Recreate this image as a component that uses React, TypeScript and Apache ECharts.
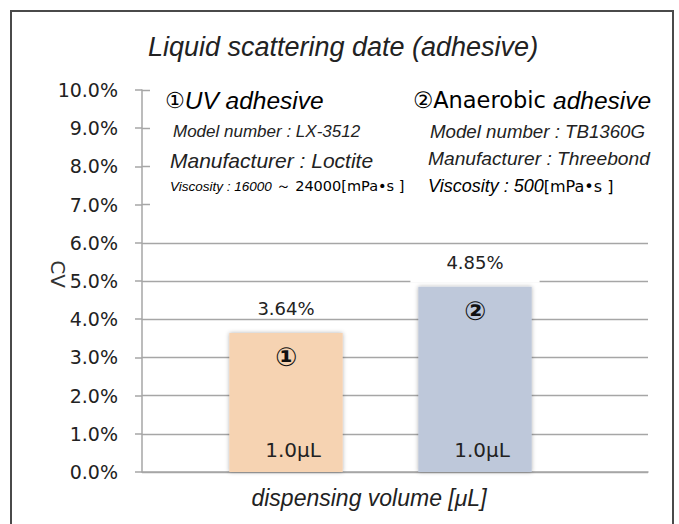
import React, { useEffect, useRef } from "react";
import * as echarts from "echarts";

const categories = ["1.0μL", "1.0μL"];
const cvValues = [3.64, 4.85];
const barMarkers = ["①", "②"];
const barColors = ["#F6D3B2", "#BEC8DA"];
const yMin = 0;
const yMax = 10;
const yInterval = 1;

const titleText = "Liquid scattering date (adhesive)";
const xAxisTitle = "dispensing volume [μL]";
const yAxisTitle = "CV";

const NUM_FONT = "'DejaVu Sans', 'Noto Sans', sans-serif";
const IT_FONT = "'Liberation Sans', Arial, sans-serif";

export default function App() {
  const ref = useRef<HTMLDivElement>(null);
  useEffect(() => {
    if (!ref.current) return;
    const chart = echarts.init(ref.current, null, { renderer: "svg" });
    const gridLine = "#a6a6a6";
    const option: any = {
      animation: false,
      backgroundColor: "#ffffff",
      grid: [
        { left: 142, right: 31, top: 90, bottom: 52 },
        { left: 191.5, right: 109.5, top: 90, bottom: 52 },
      ],
      xAxis: [
        {
          gridIndex: 0,
          type: "category",
          data: categories,
          axisLine: { show: true, lineStyle: { color: gridLine, width: 1.5 } },
          axisTick: { show: false },
          axisLabel: { show: false },
        },
        {
          gridIndex: 1,
          type: "category",
          data: categories,
          axisLine: { show: false },
          axisTick: { show: false },
          axisLabel: {
            inside: true,
            margin: 12,
            fontFamily: NUM_FONT,
            fontSize: 20,
            color: "#222",
            padding: [0, 0, 0, 14],
          },
          z: 5,
        },
      ],
      yAxis: [
        {
          gridIndex: 0,
          type: "value",
          min: yMin,
          max: yMax,
          interval: yInterval,
          axisLine: { show: true, lineStyle: { color: gridLine, width: 1.5 } },
          axisTick: { show: true, length: 7, lineStyle: { color: gridLine, width: 1.5 } },
          axisLabel: {
            margin: 24,
            fontFamily: NUM_FONT,
            fontSize: 19,
            color: "#222",
            formatter: (v: number) => v.toFixed(1) + "%",
          },
          splitLine: { show: true, lineStyle: { color: gridLine, width: 1.3 } },
        },
        {
          gridIndex: 1,
          type: "value",
          min: yMin,
          max: yMax,
          interval: yInterval,
          show: false,
        },
      ],
      series: [
        {
          type: "bar",
          xAxisIndex: 1,
          yAxisIndex: 1,
          barWidth: "60%",
          data: cvValues.map((v, i) => ({
            value: v,
            itemStyle: {
              color: barColors[i],
              shadowBlur: 4,
              shadowColor: "rgba(0,0,0,0.3)",
            },
            label:
              i === 1
                ? { backgroundColor: "#ffffff", padding: [2, 36, 11, 36], distance: 4 }
                : {},
          })),
          label: {
            show: true,
            position: "top",
            distance: 15,
            fontFamily: NUM_FONT,
            fontSize: 18,
            color: "#222",
            formatter: (p: any) => p.value + "%",
          },
        },
        {
          type: "bar",
          xAxisIndex: 1,
          yAxisIndex: 1,
          barWidth: "60%",
          barGap: "-100%",
          data: cvValues,
          itemStyle: { color: "rgba(0,0,0,0)" },
          label: {
            show: true,
            position: "insideTop",
            distance: 11,
            fontFamily: NUM_FONT,
            fontWeight: "bold",
            fontSize: 26,
            color: "#111",
            formatter: (p: any) => barMarkers[p.dataIndex],
          },
          z: 3,
        },
      ],
      graphic: [
        {
          type: "rect",
          z: 10,
          shape: { x: 150, y: 80, width: 515, height: 145 },
          style: { fill: "#ffffff" },
        },
        {
          type: "rect",
          z: 10,
          shape: { x: 11, y: 11, width: 662, height: 540 },
          style: { fill: "none", stroke: "#4a4a4a", lineWidth: 2 },
        },
        {
          type: "text",
          z: 20,
          x: 58,
          y: 274,
          rotation: -Math.PI / 2,
          style: {
            text: yAxisTitle,
            align: "center",
            verticalAlign: "middle",
            font: "20px " + NUM_FONT,
            fill: "#333",
          },
        },
        {
          type: "text",
          z: 20,
          x: 343,
          y: 47,
          style: {
            text: titleText,
            align: "center",
            verticalAlign: "middle",
            font: "italic 27px " + IT_FONT,
            fill: "#222",
          },
        },
        {
          type: "text",
          z: 20,
          x: 165,
          y: 100,
          style: {
            text: "{a|①}{b|UV adhesive}",
            align: "left",
            verticalAlign: "middle",
            rich: {
              a: { fontFamily: NUM_FONT, fontSize: 22, color: "#222" },
              b: { fontFamily: IT_FONT, fontStyle: "italic", fontSize: 24.5, color: "#222" },
            },
          },
        },
        {
          type: "text",
          z: 20,
          x: 173,
          y: 131,
          style: {
            text: "Model number : LX-3512",
            align: "left",
            verticalAlign: "middle",
            font: "italic 17px " + IT_FONT,
            fill: "#222",
          },
        },
        {
          type: "text",
          z: 20,
          x: 170,
          y: 160,
          style: {
            text: "Manufacturer : Loctite",
            align: "left",
            verticalAlign: "middle",
            font: "italic 21px " + IT_FONT,
            fill: "#222",
          },
        },
        {
          type: "text",
          z: 20,
          x: 170,
          y: 186,
          style: {
            text: "{a|Viscosity : 16000 }{b|～ 24000[mPa•s ]}",
            align: "left",
            verticalAlign: "middle",
            rich: {
              a: { fontFamily: IT_FONT, fontStyle: "italic", fontSize: 13.5, color: "#222" },
              b: { fontFamily: NUM_FONT, fontSize: 14.5, color: "#222" },
            },
          },
        },
        {
          type: "text",
          z: 20,
          x: 413,
          y: 100,
          style: {
            text: "{a|②Anaerobic }{b|adhesive}",
            align: "left",
            verticalAlign: "middle",
            rich: {
              a: { fontFamily: NUM_FONT, fontSize: 22.5, color: "#222" },
              b: { fontFamily: IT_FONT, fontStyle: "italic", fontSize: 24.5, color: "#222" },
            },
          },
        },
        {
          type: "text",
          z: 20,
          x: 430,
          y: 131,
          style: {
            text: "Model number : TB1360G",
            align: "left",
            verticalAlign: "middle",
            font: "italic 18.7px " + IT_FONT,
            fill: "#222",
          },
        },
        {
          type: "text",
          z: 20,
          x: 428,
          y: 158,
          style: {
            text: "Manufacturer : Threebond",
            align: "left",
            verticalAlign: "middle",
            font: "italic 19.2px " + IT_FONT,
            fill: "#222",
          },
        },
        {
          type: "text",
          z: 20,
          x: 428,
          y: 186,
          style: {
            text: "{a|Viscosity : 500}{b|[mPa•s ]}",
            align: "left",
            verticalAlign: "middle",
            rich: {
              a: { fontFamily: IT_FONT, fontStyle: "italic", fontSize: 18, color: "#222" },
              b: { fontFamily: NUM_FONT, fontSize: 16, color: "#222" },
            },
          },
        },
        {
          type: "text",
          z: 20,
          x: 369,
          y: 498,
          style: {
            text: xAxisTitle,
            align: "center",
            verticalAlign: "middle",
            font: "italic 23px " + IT_FONT,
            fill: "#222",
          },
        },
      ],
    };
    chart.setOption(option);
    return () => chart.dispose();
  }, []);
  return (
    <div
      ref={ref}
      style={{ position: "fixed", left: 0, top: 0, width: 679, height: 524 }}
    />
  );
}
